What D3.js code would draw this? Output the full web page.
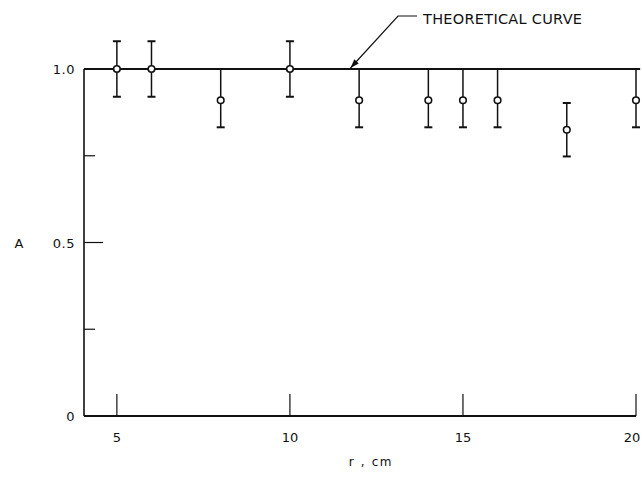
<!DOCTYPE html>
<html>
<head>
<meta charset="utf-8">
<script src="https://cdn.jsdelivr.net/npm/d3@7"></script>
<style>
  html, body { margin: 0; padding: 0; background: #fff; }
  svg { display: block; }
  text { font-family: "DejaVu Sans", sans-serif; fill: #111; }
</style>
</head>
<body>
<svg id="chart" width="642" height="480"></svg>
<script>
// ---- data ----
const rValues = [5, 6, 8, 10, 12, 14, 15, 16, 18, 20];
const aValues = [1.0, 1.0, 0.91, 1.0, 0.91, 0.91, 0.91, 0.91, 0.825, 0.91];
const aErrors = [0.08, 0.08, 0.078, 0.08, 0.078, 0.078, 0.078, 0.078, 0.077, 0.078];
const theoryValue = 1.0;
const xTickValues = [5, 10, 15, 20];
const xTickLabels = ["5", "10", "15", "20"];
const yMajorTicks = [0, 0.5, 1.0];
const yMajorLabels = ["0", "0.5", "1.0"];
const yMinorTicks = [0.25, 0.75];
const xTitle = "r , cm";
const yTitle = "A";
const annotation = "THEORETICAL CURVE";

// ---- scales ----
const svg = d3.select("#chart");
const x = d3.scaleLinear().domain([4.05, 20]).range([84, 636]);
const y = d3.scaleLinear().domain([0, 1]).range([416, 69]);
const ink = "#111";

// left axis line
svg.append("line")
  .attr("x1", x(4.05)).attr("x2", x(4.05))
  .attr("y1", y(0)).attr("y2", y(1))
  .attr("stroke", ink).attr("stroke-width", 1.6);

// bottom axis line
svg.append("line")
  .attr("x1", x(4.05)).attr("x2", x(20))
  .attr("y1", y(0)).attr("y2", y(0))
  .attr("stroke", ink).attr("stroke-width", 1.8);

// x ticks (inward)
svg.selectAll(".xt").data(xTickValues).enter().append("line")
  .attr("x1", d => x(d)).attr("x2", d => x(d))
  .attr("y1", y(0)).attr("y2", y(0) - 22)
  .attr("stroke", ink).attr("stroke-width", 1.2);

svg.selectAll(".xl").data(xTickValues).enter().append("text")
  .attr("x", d => Math.min(x(d), 632)).attr("y", y(0) + 26)
  .attr("text-anchor", "middle")
  .attr("font-size", 13)
  .text((d, i) => xTickLabels[i]);

// y ticks
svg.selectAll(".ymaj").data([0.5]).enter().append("line")
  .attr("x1", x(4.05)).attr("x2", x(4.05) + 19)
  .attr("y1", d => y(d)).attr("y2", d => y(d))
  .attr("stroke", ink).attr("stroke-width", 1.2);
svg.selectAll(".ymin").data(yMinorTicks).enter().append("line")
  .attr("x1", x(4.05)).attr("x2", x(4.05) + 11)
  .attr("y1", d => y(d)).attr("y2", d => y(d))
  .attr("stroke", ink).attr("stroke-width", 1.2);

svg.selectAll(".yl").data(yMajorTicks).enter().append("text")
  .attr("x", 75).attr("y", d => y(d) + 5)
  .attr("text-anchor", "end")
  .attr("font-size", 13)
  .attr("letter-spacing", "0.5px")
  .text((d, i) => yMajorLabels[i]);

// axis titles
svg.append("text")
  .attr("x", 371).attr("y", 466)
  .attr("text-anchor", "middle")
  .attr("font-size", 12)
  .attr("letter-spacing", "1.6px")
  .text(xTitle);
svg.append("text")
  .attr("x", 19).attr("y", y(0.5) + 5)
  .attr("text-anchor", "middle")
  .attr("font-size", 13)
  .text(yTitle);

// theoretical curve
svg.append("line")
  .attr("x1", x(4.05)).attr("x2", x(20.12))
  .attr("y1", y(theoryValue)).attr("y2", y(theoryValue))
  .attr("stroke", ink).attr("stroke-width", 2);

// error bars
const pts = rValues.map((r, i) => ({ r, a: aValues[i], e: aErrors[i] }));
const capW = 4;
// bars whose upper end falls just under the curve are drawn up to the curve (cap hidden by it)
const nearCurve = d => Math.abs(d.a + d.e - theoryValue) < 0.03;
const topOf = d => nearCurve(d) ? theoryValue : d.a + d.e;
const eb = svg.selectAll(".eb").data(pts).enter().append("g");
eb.append("line")
  .attr("x1", d => x(d.r)).attr("x2", d => x(d.r))
  .attr("y1", d => y(topOf(d)))
  .attr("y2", d => y(d.a - d.e))
  .attr("stroke", ink).attr("stroke-width", 1.5);
// lower caps
eb.append("line")
  .attr("x1", d => x(d.r) - capW).attr("x2", d => x(d.r) + capW)
  .attr("y1", d => y(d.a - d.e)).attr("y2", d => y(d.a - d.e))
  .attr("stroke", ink).attr("stroke-width", 2);
// upper caps
eb.filter(d => !nearCurve(d)).append("line")
  .attr("x1", d => x(d.r) - capW).attr("x2", d => x(d.r) + capW)
  .attr("y1", d => y(d.a + d.e)).attr("y2", d => y(d.a + d.e))
  .attr("stroke", ink).attr("stroke-width", 2);
// open circles
eb.append("circle")
  .attr("cx", d => x(d.r)).attr("cy", d => y(d.a))
  .attr("r", 3.3)
  .attr("fill", "#fff").attr("stroke", ink).attr("stroke-width", 1.6);

// annotation with leader and arrow
const tip = [x(11.75), y(theoryValue) - 1];
const elbow = [398, 16];
svg.append("polyline")
  .attr("points", [[417, 16], elbow, tip].map(p => p.join(",")).join(" "))
  .attr("fill", "none").attr("stroke", ink).attr("stroke-width", 1.2);
const ang = Math.atan2(tip[1] - elbow[1], tip[0] - elbow[0]);
const L = 9, W = 3;
const bx = tip[0] - L * Math.cos(ang), by = tip[1] - L * Math.sin(ang);
svg.append("polygon")
  .attr("points", [
    tip,
    [bx + W * Math.sin(ang), by - W * Math.cos(ang)],
    [bx - W * Math.sin(ang), by + W * Math.cos(ang)]
  ].map(p => p.join(",")).join(" "))
  .attr("fill", ink);
svg.append("text")
  .attr("x", 423).attr("y", 23.5)
  .attr("font-size", 14.5)
  .attr("textLength", 159)
  .attr("lengthAdjust", "spacing")
  .text(annotation);
</script>
</body>
</html>
